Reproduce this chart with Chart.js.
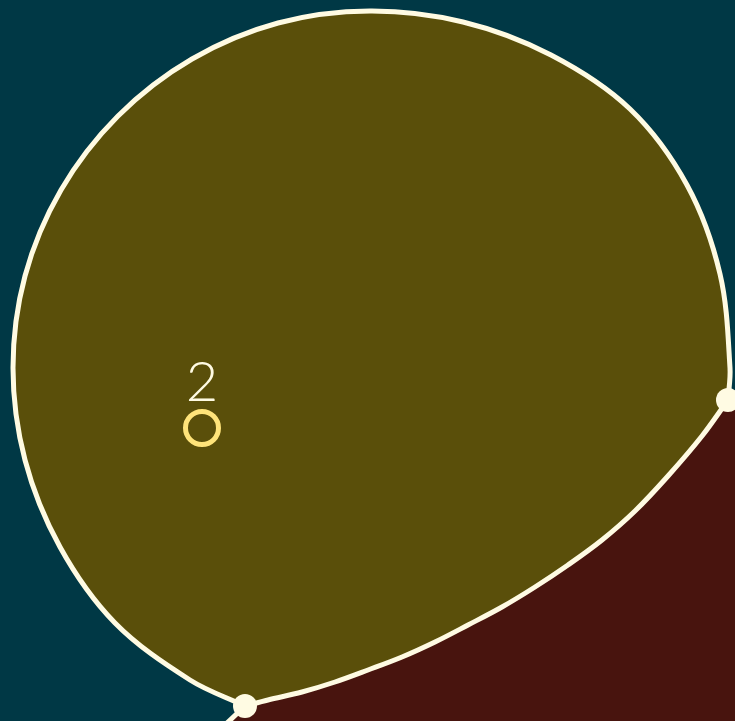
<!DOCTYPE html>
<html>
<head>
<meta charset="utf-8">
<script src="https://cdn.jsdelivr.net/npm/chart.js@4/dist/chart.umd.min.js"></script>
<style>
    html, body { margin: 0; padding: 0; background: #003845; }
    #wrap { width: 735px; height: 721px; }
</style>
</head>
<body>
<div id="wrap"><canvas id="regionChart" width="735" height="721"></canvas></div>
<script>
// outline of region "2", read clockwise from the lower-left junction to the right junction
const outerX = [245, 245, 190, 115, 60, 25, 13, 25, 61, 118, 192, 278, 370, 463, 551, 630, 687, 720, 730, 728, 728];
const outerY = [706, 706, 680, 623, 547, 460, 368, 276, 190, 116, 59, 23, 11, 22, 55, 109, 185, 274, 368, 400, 400];

// border shared with the neighbouring (dark red) region, right junction to left junction
const borderX = [728, 702, 668, 635, 602, 568, 535, 502, 468, 435, 402, 368, 335, 302, 268, 245];
const borderY = [400, 436, 476, 511, 540, 565, 587, 607, 625, 642, 657, 670, 682, 692, 700, 706];

// edge leaving the lower-left junction
const edgeX = [245, 226];
const edgeY = [706, 724];

// junction points
const nodeX = [728, 245];
const nodeY = [400, 706];

// region label + marker
const regionLabels = ['2'];
const markerX = [202];
const markerY = [428];

const colors = {
    background: '#003845',
    region: '#5a4f0a',
    neighbour: '#48140e',
    line: '#fffbe3',
    marker: '#ffe47a'
};

function toPoints(xs, ys) {
    return xs.map((x, i) => ({ x: x, y: ys[i] }));
}

// olive region = outline + shared border back to start
const regionPoints = toPoints(outerX, outerY).concat(toPoints(borderX, borderY));
regionPoints.push({ x: outerX[0], y: outerY[0] });

// dark red region = edge + shared border + off-canvas corners
const neighbourPoints = [{ x: edgeX[1], y: edgeY[1] }]
    .concat(toPoints(borderX, borderY).reverse())
    .concat([{ x: 745, y: 392 }, { x: 745, y: 730 }, { x: edgeX[1], y: 730 }, { x: edgeX[1], y: edgeY[1] }]);

const labelPlugin = {
    id: 'regionLabel',
    afterDatasetsDraw(chart) {
        const ctx = chart.ctx;
        const xs = chart.scales.x;
        const ys = chart.scales.y;
        ctx.save();
        ctx.fillStyle = colors.line;
        ctx.font = '300 56px Lato, "Open Sans", sans-serif';
        ctx.textAlign = 'center';
        ctx.textBaseline = 'alphabetic';
        regionLabels.forEach((txt, i) => {
            ctx.fillText(txt, xs.getPixelForValue(markerX[i]), ys.getPixelForValue(markerY[i]) - 27);
        });
        ctx.restore();
    }
};

const ctx = document.getElementById('regionChart').getContext('2d');
const regionChart = new Chart(ctx, {
    type: 'scatter',
    data: {
        datasets: [
            {
                label: 'marker',
                data: toPoints(markerX, markerY),
                showLine: false,
                pointRadius: 16.5,
                pointBorderWidth: 5,
                pointBackgroundColor: 'rgba(0,0,0,0)',
                pointBorderColor: colors.marker,
                order: 1
            },
            {
                label: 'nodes',
                data: toPoints(nodeX, nodeY),
                showLine: false,
                pointRadius: 12,
                pointBorderWidth: 0,
                pointBackgroundColor: colors.line,
                clip: false,
                order: 2
            },
            {
                label: 'edge',
                data: toPoints(edgeX, edgeY),
                showLine: true,
                borderColor: colors.line,
                borderWidth: 5,
                pointRadius: 0,
                fill: false,
                order: 3
            },
            {
                label: 'region 2',
                data: regionPoints,
                showLine: true,
                tension: 0.34,
                borderColor: colors.line,
                borderWidth: 5,
                borderJoinStyle: 'round',
                backgroundColor: colors.region,
                pointRadius: 0,
                fill: 'shape',
                order: 4
            },
            {
                label: 'neighbour',
                data: neighbourPoints,
                showLine: true,
                tension: 0.34,
                borderWidth: 0,
                borderColor: 'rgba(0,0,0,0)',
                backgroundColor: colors.neighbour,
                pointRadius: 0,
                fill: 'shape',
                order: 5
            }
        ]
    },
    options: {
        responsive: false,
        animation: false,
        devicePixelRatio: 1,
        layout: { padding: 0, autoPadding: false },
        plugins: {
            legend: { display: false },
            tooltip: { enabled: false }
        },
        scales: {
            x: { type: 'linear', min: 0, max: 735, display: false },
            y: { type: 'linear', min: 0, max: 721, reverse: true, display: false }
        }
    },
    plugins: [labelPlugin]
});
</script>
</body>
</html>
